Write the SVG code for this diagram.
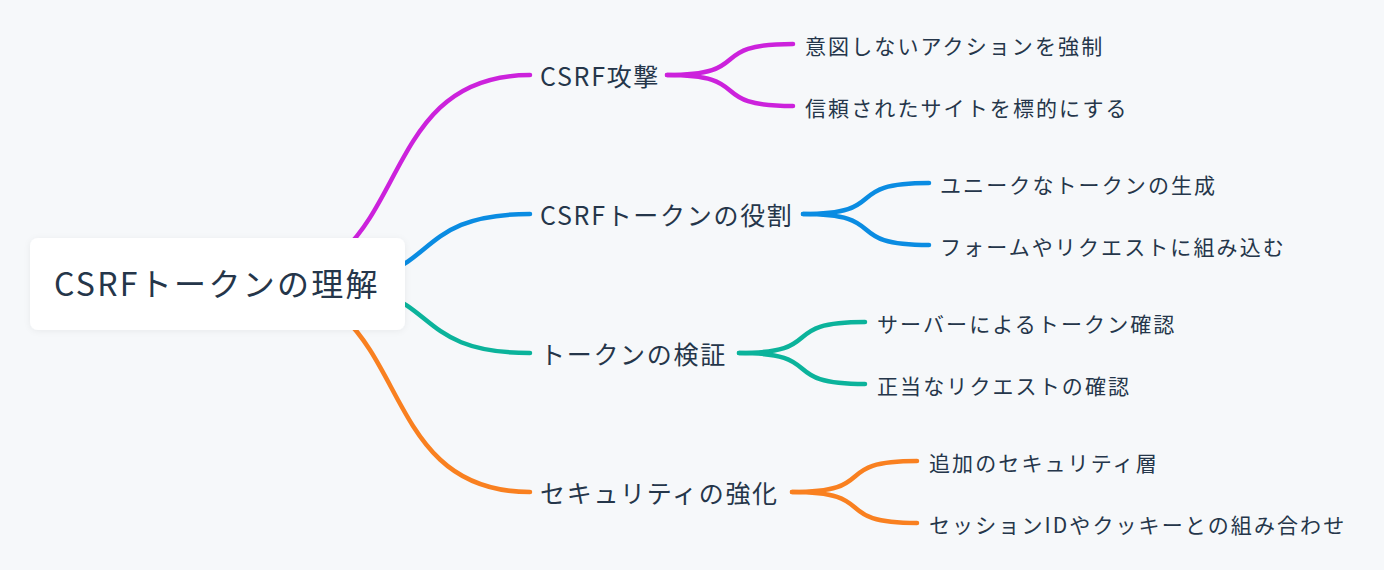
<svg xmlns="http://www.w3.org/2000/svg" width="1384" height="570" viewBox="0 0 1384 570">
<defs>
<filter id="sh" x="-10%" y="-20%" width="120%" height="140%">
<feDropShadow dx="0" dy="1" stdDeviation="3" flood-color="#000" flood-opacity="0.06"/>
</filter>
<style>
.l{fill:none;stroke-width:4.5;stroke-linecap:round}
.m{stroke:#cc22dc}.b{stroke:#0a8ce2}.t{stroke:#0bb39b}.o{stroke:#f98020}
text{font-family:"Noto Sans CJK JP","Noto Sans",sans-serif;fill:#25364a}
.r{font-size:32px;letter-spacing:2.3px}
.c{font-size:25px;letter-spacing:1.7px}
.f{font-size:21px;letter-spacing:2.1px}
</style>
</defs>
<rect width="1384" height="570" fill="#f6f8fa"/>
<g id="connectors">
<path class="l m" d="M253 284C419 284 364 75 530 75"/>
<path class="l b" d="M318 284C445 284 403 214 530 214"/>
<path class="l t" d="M318 284C445 284 403 353 530 353"/>
<path class="l o" d="M253 284C419 284 364 492 530 492"/>
<path class="l m" d="M667 75C757 75 703 44 793 44"/>
<path class="l m" d="M667 75C757 75 703 106 793 106"/>
<path class="l b" d="M803 214C893 214 839 183 929 183"/>
<path class="l b" d="M803 214C893 214 839 245 929 245"/>
<path class="l t" d="M739 353C829 353 775 322 865 322"/>
<path class="l t" d="M739 353C829 353 775 384 865 384"/>
<path class="l o" d="M792 492C882 492 828 461 917 461"/>
<path class="l o" d="M792 492C882 492 828 523 917 523"/>
</g>
<g id="root">
<rect x="30" y="238" width="375" height="92" rx="8" fill="#fff" filter="url(#sh)"/>
<text class="r" x="54" y="295.5">CSRFトークンの理解</text>
</g>
<g id="n1"><text class="c" x="540" y="86">CSRF攻撃</text></g>
<g id="n1a"><text class="f" x="805" y="54">意図しないアクションを強制</text></g>
<g id="n1b"><text class="f" x="805" y="116">信頼されたサイトを標的にする</text></g>
<g id="n2"><text class="c" x="540" y="225">CSRFトークンの役割</text></g>
<g id="n2a"><text class="f" x="940" y="193">ユニークなトークンの生成</text></g>
<g id="n2b"><text class="f" x="940" y="255">フォームやリクエストに組み込む</text></g>
<g id="n3"><text class="c" x="540" y="364">トークンの検証</text></g>
<g id="n3a"><text class="f" x="877" y="332">サーバーによるトークン確認</text></g>
<g id="n3b"><text class="f" x="877" y="394">正当なリクエストの確認</text></g>
<g id="n4"><text class="c" x="540" y="503">セキュリティの強化</text></g>
<g id="n4a"><text class="f" x="929" y="471">追加のセキュリティ層</text></g>
<g id="n4b"><text class="f" x="929" y="533">セッションIDやクッキーとの組み合わせ</text></g>
</svg>
